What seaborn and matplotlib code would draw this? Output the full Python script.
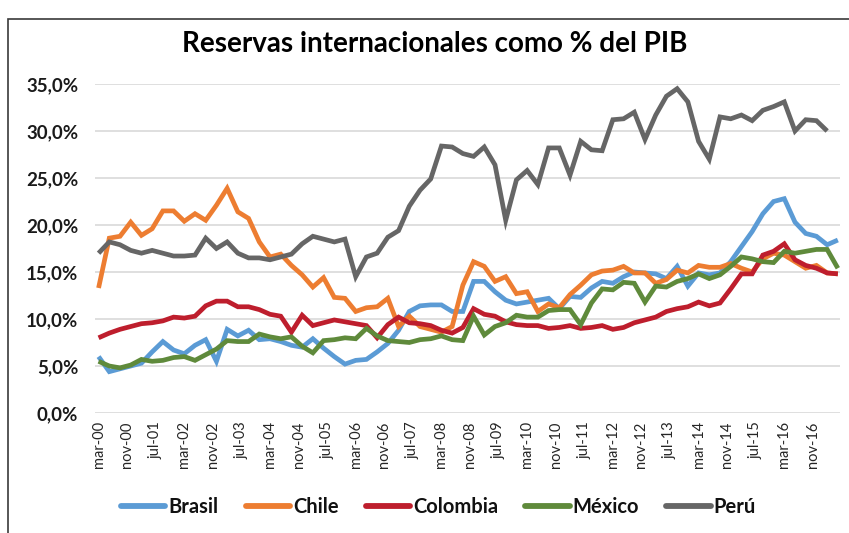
import numpy as np
import pandas as pd
import matplotlib
matplotlib.use("Agg")
import matplotlib.pyplot as plt
from matplotlib.lines import Line2D
from matplotlib.patches import Rectangle
from matplotlib.font_manager import FontProperties
from matplotlib.ticker import FuncFormatter, FixedLocator
import seaborn as sns

# Quarterly observations, March 2000 to June 2017 (month offset from mar-00)
month_offset = list(range(0, 208, 3))

brasil = [6.0, 4.4, 4.7, 5.0, 5.3, 6.5, 7.6, 6.7, 6.3, 7.2, 7.8, 5.5, 8.9, 8.2, 8.8, 7.8,
          7.9, 7.6, 7.2, 7.0, 7.9, 6.9, 6.0, 5.2, 5.6, 5.7, 6.5, 7.4, 8.8, 10.8, 11.4, 11.5,
          11.5, 10.8, 10.8, 14.0, 14.0, 12.9, 12.0, 11.6, 11.8, 12.0, 12.2, 11.1, 12.4, 12.3,
          13.3, 14.0, 13.8, 14.5, 15.0, 14.9, 14.8, 14.3, 15.6, 13.5, 14.9, 14.7, 14.9, 16.1,
          17.7, 19.3, 21.2, 22.5, 22.8, 20.3, 19.1, 18.8, 17.9, 18.4]
chile = [13.3, 18.6, 18.8, 20.3, 18.9, 19.6, 21.5, 21.5, 20.4, 21.2, 20.5, 22.1, 23.9, 21.4,
         20.7, 18.2, 16.6, 16.9, 15.7, 14.7, 13.4, 14.4, 12.3, 12.2, 10.8, 11.2, 11.3, 12.2,
         9.2, 10.3, 9.2, 8.9, 8.6, 9.2, 13.6, 16.1, 15.6, 14.0, 14.5, 12.7, 12.9, 10.8, 11.6,
         11.2, 12.6, 13.6, 14.7, 15.1, 15.2, 15.6, 14.9, 14.9, 13.8, 14.2, 15.2, 14.9, 15.7,
         15.5, 15.5, 15.9, 15.4, 15.0, 16.4, 17.0, 16.8, 16.1, 15.4, 15.7, 14.9, 14.8]
colombia = [8.0, 8.5, 8.9, 9.2, 9.5, 9.6, 9.8, 10.2, 10.1, 10.3, 11.4, 11.9, 11.9, 11.3, 11.3,
            11.0, 10.5, 10.3, 8.6, 10.4, 9.3, 9.6, 9.9, 9.7, 9.5, 9.3, 8.0, 9.4, 10.2, 9.6, 9.5,
            9.3, 8.8, 8.5, 9.1, 11.1, 10.5, 10.3, 9.7, 9.4, 9.3, 9.3, 9.0, 9.1, 9.3, 9.0, 9.1,
            9.3, 8.9, 9.1, 9.6, 9.9, 10.2, 10.8, 11.1, 11.3, 11.8, 11.4, 11.7, 13.2, 14.8, 14.8,
            16.8, 17.2, 18.0, 16.3, 15.7, 15.4, 14.9, 14.8]
mexico = [5.5, 5.0, 4.8, 5.1, 5.7, 5.5, 5.6, 5.9, 6.0, 5.6, 6.2, 6.8, 7.7, 7.6, 7.6, 8.4, 8.1,
          7.9, 8.1, 7.1, 6.4, 7.7, 7.8, 8.0, 7.9, 9.0, 8.2, 7.7, 7.6, 7.5, 7.8, 7.9, 8.2, 7.8,
          7.7, 10.3, 8.3, 9.2, 9.6, 10.4, 10.2, 10.2, 10.9, 11.0, 11.0, 9.4, 11.7, 13.2, 13.1,
          13.9, 13.8, 11.8, 13.5, 13.4, 14.0, 14.3, 14.8, 14.3, 14.7, 15.6, 16.6, 16.4, 16.1,
          16.0, 17.2, 17.0, 17.2, 17.4, 17.4, 15.4]
peru = [17.0, 18.2, 17.9, 17.3, 17.0, 17.3, 17.0, 16.7, 16.7, 16.8, 18.6, 17.5, 18.2, 17.0,
        16.5, 16.5, 16.3, 16.6, 16.9, 18.0, 18.8, 18.5, 18.2, 18.5, 14.5, 16.6, 17.0, 18.7,
        19.4, 22.0, 23.7, 24.9, 28.4, 28.3, 27.6, 27.3, 28.3, 26.4, 20.5, 24.8, 25.8, 24.3,
        28.2, 28.2, 25.3, 28.9, 28.0, 27.9, 31.2, 31.3, 32.0, 29.1, 31.7, 33.7, 34.5, 33.1,
        28.9, 27.0, 31.5, 31.3, 31.7, 31.1, 32.2, 32.6, 33.1, 30.0, 31.2, 31.1, 30.0, np.nan]

countries = ["Brasil", "Chile", "Colombia", "México", "Perú"]
colors = ["#5B9BD5", "#ED7D31", "#BE1E2D", "#5F8A3B", "#666666"]

tick_months = list(range(0, 201, 8))
tick_labels = ["mar-00", "nov-00", "jul-01", "mar-02", "nov-02", "jul-03", "mar-04",
               "nov-04", "jul-05", "mar-06", "nov-06", "jul-07", "mar-08", "nov-08",
               "jul-09", "mar-10", "nov-10", "jul-11", "mar-12", "nov-12", "jul-13",
               "mar-14", "nov-14", "jul-15", "mar-16", "nov-16"]

frames = []
for name, vals in zip(countries, [brasil, chile, colombia, mexico, peru]):
    frames.append(pd.DataFrame({"mes": month_offset, "valor": vals, "pais": name}))
df = pd.concat(frames, ignore_index=True).dropna()

sns.set_theme(style="white")
plt.rcParams["font.family"] = ["Lato", "DejaVu Sans"]

fig = plt.figure(figsize=(8.49, 5.33), dpi=100)
ax = fig.add_axes([95 / 849, 1 - 413 / 533, 745 / 849, 329 / 533])

sns.lineplot(data=df, x="mes", y="valor", hue="pais", hue_order=countries,
             palette=colors, linewidth=3.4, sort=False, legend=False, ax=ax,
             solid_joinstyle="miter", solid_capstyle="butt")

ax.set_xlim(-1.0, 207.6)
ax.set_ylim(0, 35)
ax.set_yticks(np.arange(0, 36, 5))
ax.yaxis.set_major_formatter(FuncFormatter(lambda v, p: f"{v:.1f}%".replace(".", ",")))
ax.xaxis.set_major_locator(FixedLocator(tick_months))
ax.set_xticklabels(tick_labels, rotation=90, fontsize=10.5, color="#262626")
for lbl in ax.get_yticklabels():
    lbl.set_fontweight("bold")
    lbl.set_fontsize(13.5)
    lbl.set_color("#1a1a1a")
ax.tick_params(axis="y", length=0, pad=12)
ax.tick_params(axis="x", length=0, pad=6)
ax.set_xlabel("")
ax.set_ylabel("")
ax.grid(axis="y", color="#D9D9D9", linewidth=1.2)
ax.grid(axis="x", visible=False)
ax.set_axisbelow(True)
for s in ax.spines.values():
    s.set_visible(False)

fig.text(0.512, 0.917, "Reservas internacionales como % del PIB", ha="center", va="center",
         fontsize=20, fontweight="bold", color="#000000")

legend_font = FontProperties(family=["Lato", "DejaVu Sans"], weight="bold", size=14.5)
handles = [Line2D([0], [0], color=c, linewidth=4.2) for c in colors]
leg = fig.legend(handles, countries, loc="center", bbox_to_anchor=(0.5165, 0.049), ncol=5,
                 frameon=False, handlelength=2.2, handletextpad=0.15, columnspacing=1.35,
                 prop=legend_font)
for t in leg.get_texts():
    t.set_fontweight("bold")
    t.set_color("#111111")

# outer chart frame (left and top edges)
fig.add_artist(Rectangle((8 / 849, -0.1), 1.2, 1 - 19 / 533 + 0.1, transform=fig.transFigure,
                         fill=False, edgecolor="#3a3a3a", linewidth=1.2))

fig.savefig("out.png", dpi=100)
